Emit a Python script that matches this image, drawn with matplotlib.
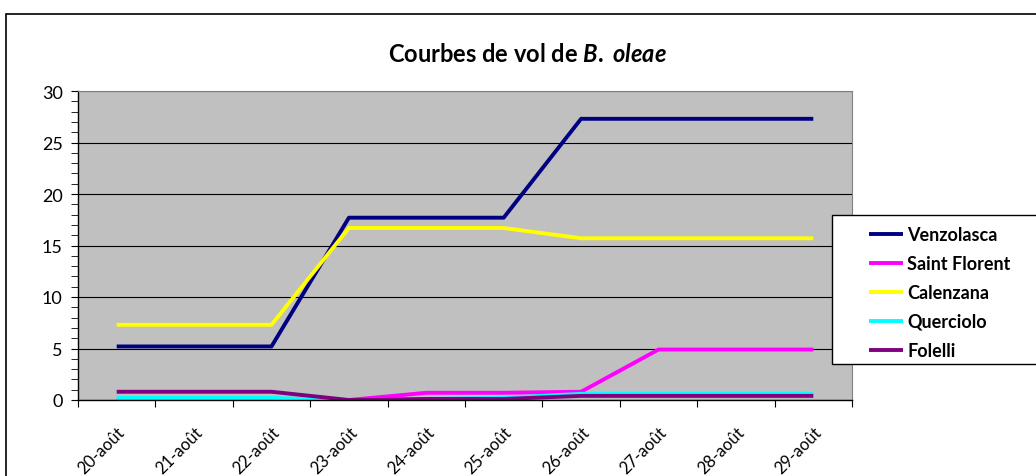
import numpy as np
import matplotlib
matplotlib.use("Agg")
import matplotlib.pyplot as plt
import matplotlib.transforms as mtrans
from matplotlib.patches import Rectangle

plt.rcParams['font.family'] = ['Lato', 'DejaVu Sans']
plt.rcParams['mathtext.fontset'] = 'custom'
plt.rcParams['mathtext.rm'] = 'Lato:bold'
plt.rcParams['mathtext.it'] = 'Lato:italic:bold'

dates = ["20-août", "21-août", "22-août", "23-août", "24-août",
         "25-août", "26-août", "27-août", "28-août", "29-août"]
venzolasca    = [5.2, 5.2, 5.2, 17.7, 17.7, 17.7, 27.3, 27.3, 27.3, 27.3]
saint_florent = [0.0, 0.0, 0.0, 0.0, 0.7, 0.7, 0.8, 4.9, 4.9, 4.9]
calenzana     = [7.3, 7.3, 7.3, 16.7, 16.7, 16.7, 15.7, 15.7, 15.7, 15.7]
querciolo     = [0.2, 0.2, 0.2, 0.0, 0.1, 0.2, 0.6, 0.6, 0.6, 0.6]
folelli       = [0.8, 0.8, 0.8, 0.0, 0.1, 0.1, 0.4, 0.4, 0.4, 0.4]

series = [("Venzolasca", venzolasca, "#000080"),
          ("Saint Florent", saint_florent, "#FF00FF"),
          ("Calenzana", calenzana, "#FFFF00"),
          ("Querciolo", querciolo, "#00FFFF"),
          ("Folelli", folelli, "#800080")]

fig = plt.figure(figsize=(10.36, 4.77), dpi=100)
# outer chart frame (runs off the right and bottom edges)
fig.patches.append(Rectangle((6 / 1036, -0.1), 1.1, 1 - 15 / 477 + 0.1,
                             transform=fig.transFigure, fill=False,
                             edgecolor="black", lw=1.2))

ax = fig.add_axes([78 / 1036, 1 - 401 / 477, (852 - 78) / 1036, (401 - 92) / 477])
ax.set_facecolor("#C0C0C0")

x = np.arange(len(dates))
for name, vals, col in series:
    ax.plot(x, vals, color=col, lw=2.8, label=name, solid_capstyle="butt")

ax.set_xlim(-0.5, len(dates) - 0.5)
ax.set_ylim(0, 30)
ax.set_yticks(range(0, 31, 5))
ax.set_yticks(range(0, 31), minor=True)
ax.yaxis.grid(True, which="major", color="black", lw=0.8)
ax.set_axisbelow(True)

ax.set_xticks(np.arange(-0.5, len(dates)))
ax.set_xticklabels([])
ax.set_xticks(x, minor=True)
ax.set_xticklabels(dates, minor=True, rotation=45, ha="right", va="top",
                   rotation_mode="anchor", fontsize=12)
shift = mtrans.ScaledTranslation(-7 / 100, 0, fig.dpi_scale_trans)
for lab in ax.get_xticklabels(minor=True):
    lab.set_transform(lab.get_transform() + shift)
ax.tick_params(axis="x", which="minor", length=0, pad=17)
ax.tick_params(axis="x", which="major", length=5, direction="out")
ax.tick_params(axis="y", which="both", length=5, labelsize=13, pad=6)

for s in ["top", "right"]:
    ax.spines[s].set_color("#808080")
    ax.spines[s].set_linewidth(0.8)
for s in ["left", "bottom"]:
    ax.spines[s].set_linewidth(1.0)

fig.text(0.509, 1 - 55 / 477, r"Courbes de vol de $\mathit{B.}$ $\mathit{oleae}$",
         ha="center", va="center", fontsize=17, fontweight="bold")

# legend box
fig.patches.append(Rectangle((832 / 1036, 1 - 365 / 477), 0.3, (365 - 216) / 477,
                             transform=fig.transFigure, facecolor="white",
                             edgecolor="black", lw=1.0, zorder=5))
leg = fig.legend(loc="upper left", bbox_to_anchor=(853 / 1036, 1 - 211 / 477),
                 frameon=False, handlelength=1.85, handletextpad=0.25,
                 labelspacing=0.66, prop={"weight": "bold", "size": 13})
leg.set_zorder(6)

plt.savefig("out.png", dpi=100)
